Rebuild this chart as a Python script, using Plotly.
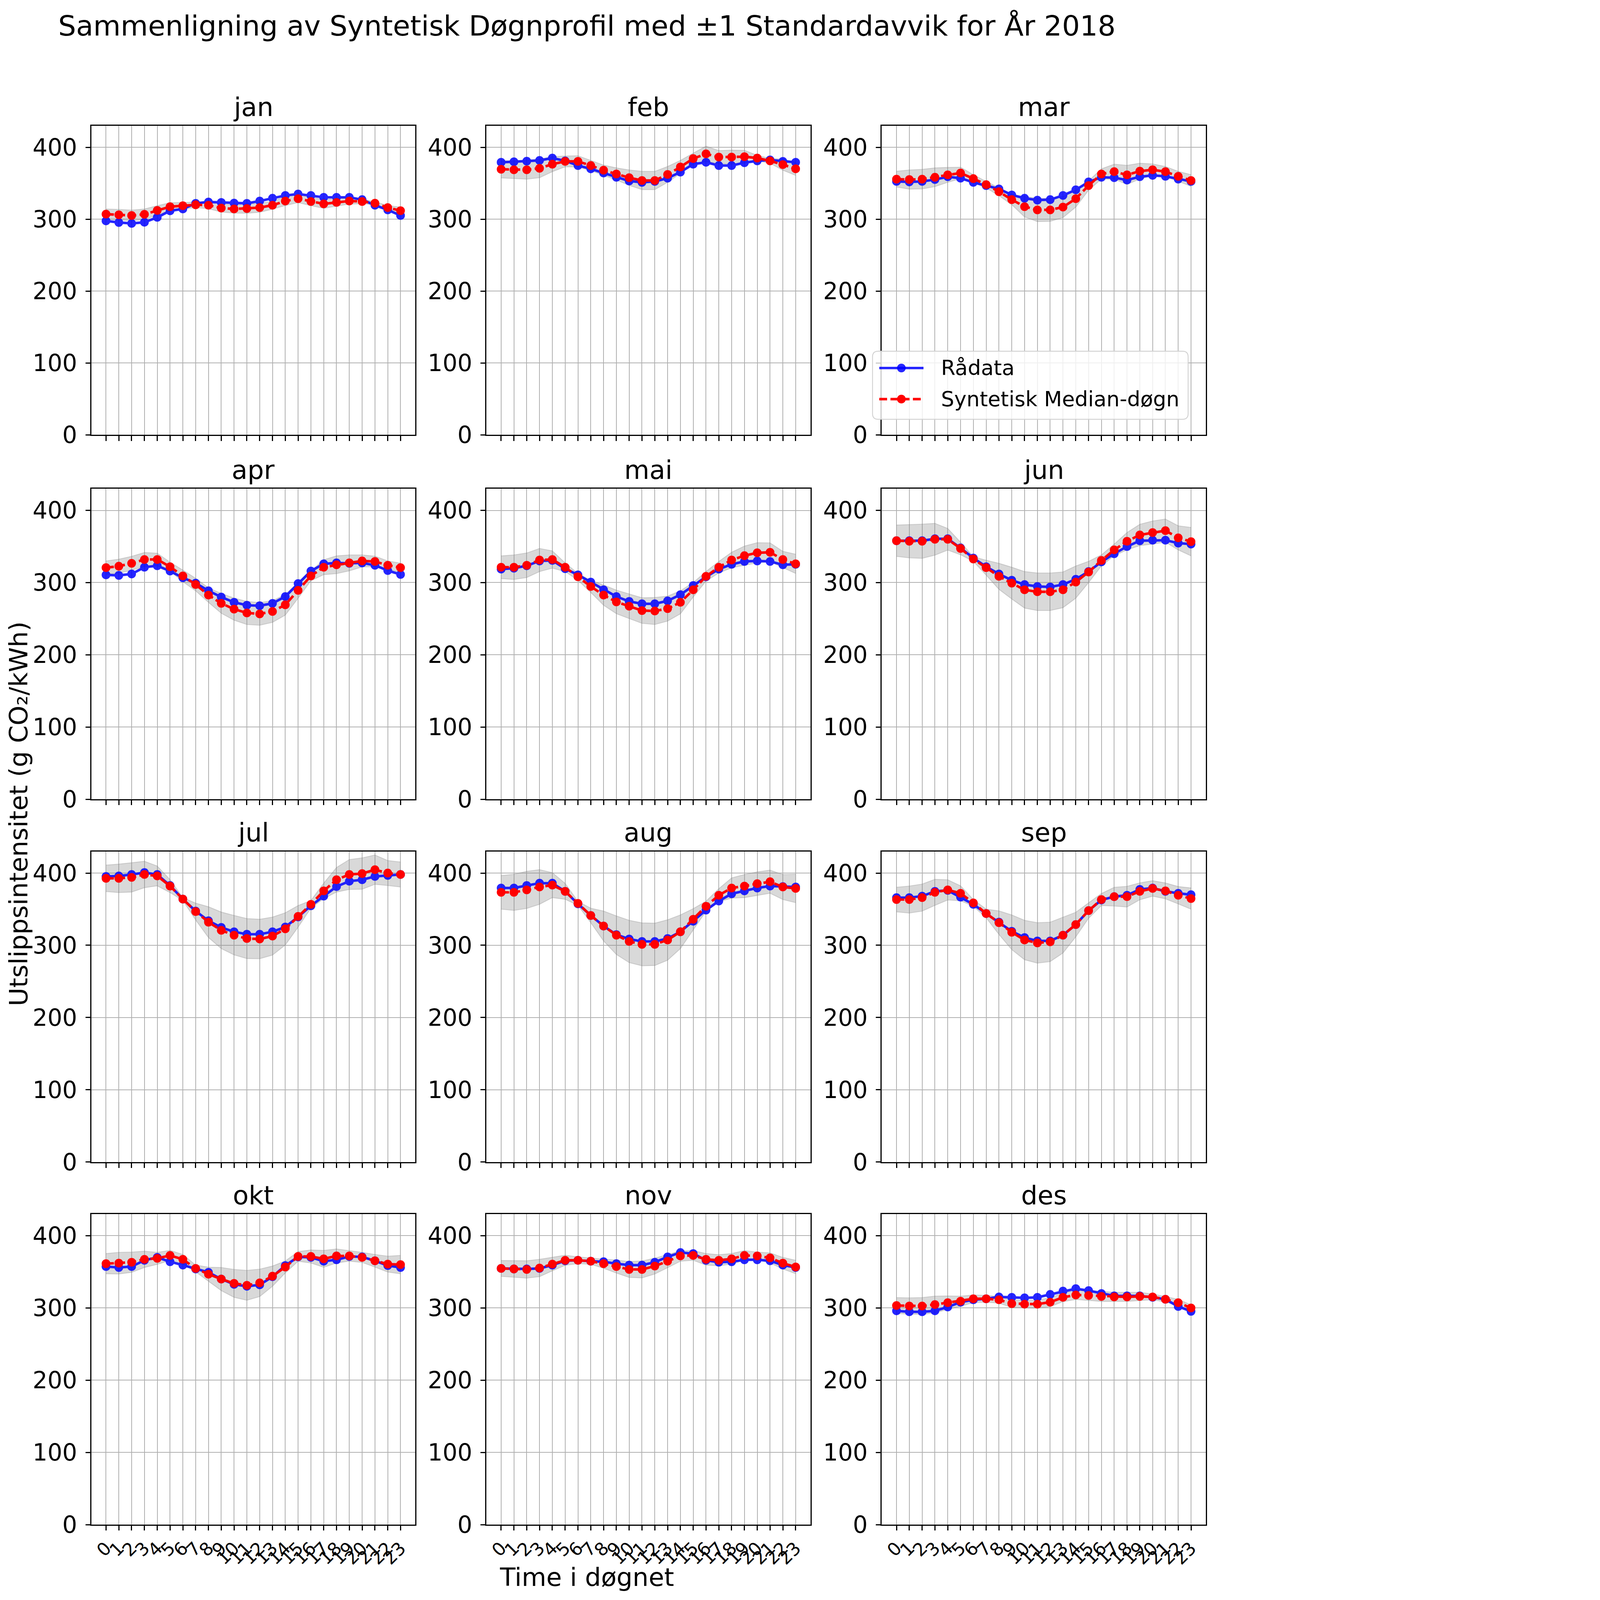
import plotly.graph_objects as go
from plotly.subplots import make_subplots

# Time i døgnet og måneder
timer = list(range(24))
maaneder = ["jan", "feb", "mar", "apr", "mai", "jun",
            "jul", "aug", "sep", "okt", "nov", "des"]

# Rådata (g CO2/kWh) per time, lest av figuren
raadata_jan = [297.7, 295.5, 294.2, 295.8, 302.6, 311.7, 314.3, 322.1, 324.0, 323.4, 322.5, 322.1,
               325.3, 329.2, 333.1, 335.1, 333.1, 330.5, 330.5, 330.5, 327.3, 319.5, 313.0, 305.2]
raadata_feb = [379.2, 379.9, 380.8, 381.8, 385.1, 381.2, 374.7, 370.1, 364.3, 358.4, 353.2, 351.3,
               352.6, 357.1, 365.6, 376.6, 379.2, 374.7, 374.7, 378.6, 381.2, 382.5, 380.5, 379.2]
raadata_mar = [352.6, 351.9, 352.6, 355.2, 359.1, 357.1, 351.3, 346.8, 342.2, 333.8, 329.2, 326.6,
               327.3, 333.1, 340.9, 351.9, 358.4, 357.8, 354.5, 359.1, 361.0, 359.7, 355.8, 352.6]
raadata_apr = [310.7, 310.0, 312.0, 321.3, 323.3, 316.0, 306.7, 299.3, 288.7, 280.0, 272.7, 268.7,
               268.0, 271.3, 280.7, 298.7, 316.0, 326.0, 327.3, 326.7, 327.3, 324.0, 316.7, 311.3]
raadata_mai = [318.7, 320.0, 323.3, 330.0, 330.7, 319.3, 310.7, 300.7, 290.0, 280.7, 274.0, 270.7,
               270.7, 274.7, 283.3, 296.0, 308.0, 318.7, 325.3, 329.3, 330.0, 329.3, 324.7, 325.3]
raadata_jun = [358.0, 358.0, 358.0, 360.7, 360.7, 348.0, 334.0, 322.0, 312.0, 303.3, 297.3, 294.7,
               294.0, 297.3, 304.7, 315.3, 328.7, 340.0, 350.0, 358.0, 358.7, 358.7, 354.7, 353.3]
raadata_jul = [395.3, 396.0, 398.0, 400.7, 398.0, 382.7, 364.0, 347.3, 334.0, 324.7, 318.7, 315.3,
               315.3, 318.7, 325.3, 339.3, 354.7, 368.0, 381.3, 388.7, 390.7, 395.3, 396.7, 398.0]
raadata_aug = [379.3, 379.3, 382.7, 386.0, 386.0, 374.7, 357.3, 341.3, 326.7, 314.7, 308.7, 305.3,
               305.3, 309.3, 318.7, 333.3, 348.7, 361.3, 371.3, 375.3, 379.3, 382.0, 381.3, 380.7]
raadata_sep = [366.0, 366.0, 368.0, 374.7, 376.0, 366.7, 356.7, 344.0, 332.0, 319.3, 310.7, 306.0,
               306.0, 314.0, 328.7, 348.0, 362.7, 367.3, 369.3, 377.3, 379.3, 374.7, 372.0, 370.0]
raadata_okt = [357.3, 356.0, 357.3, 366.0, 370.0, 364.0, 359.3, 354.0, 349.3, 340.0, 332.7, 330.0,
               332.0, 343.3, 358.7, 370.7, 370.0, 364.7, 366.7, 371.3, 370.7, 365.3, 358.7, 356.0]
raadata_nov = [354.7, 354.0, 354.0, 354.7, 359.3, 365.3, 366.0, 364.7, 364.0, 361.3, 359.3, 359.3,
               363.3, 370.7, 376.7, 375.3, 366.0, 363.3, 364.0, 366.7, 366.7, 365.3, 359.3, 356.0]
raadata_des = [296.0, 294.7, 294.7, 296.0, 301.3, 308.0, 311.3, 312.7, 315.3, 314.7, 314.0, 314.7,
               318.7, 323.3, 326.7, 324.0, 320.0, 316.7, 316.7, 316.7, 314.7, 312.0, 302.0, 295.3]

# Syntetisk median-døgn
syntetisk_jan = [307.1, 306.2, 305.2, 306.8, 312.3, 317.5, 318.8, 320.1, 319.5, 315.6, 314.3, 314.9,
                 316.2, 319.5, 325.3, 328.6, 324.7, 321.4, 323.4, 325.3, 324.7, 322.3, 316.2, 311.9]
syntetisk_feb = [369.5, 368.8, 368.8, 370.8, 376.6, 380.5, 380.5, 374.7, 368.2, 363.0, 357.8, 353.9,
                 353.9, 362.3, 372.7, 384.4, 390.9, 386.4, 386.4, 387.0, 385.1, 381.2, 376.0, 370.1]
syntetisk_mar = [355.8, 355.2, 355.8, 358.4, 361.7, 364.3, 356.5, 348.1, 338.3, 327.3, 317.5, 313.0,
                 313.0, 316.9, 328.6, 346.8, 363.0, 366.2, 361.7, 366.9, 368.8, 366.2, 359.7, 353.9]
syntetisk_apr = [320.7, 322.7, 326.7, 332.0, 332.0, 322.0, 309.3, 297.3, 282.7, 271.3, 263.3, 258.0,
                 256.7, 260.0, 269.3, 289.3, 309.3, 321.3, 324.7, 327.3, 330.0, 329.3, 324.0, 320.7]
syntetisk_mai = [321.3, 321.3, 324.0, 331.3, 332.0, 321.3, 308.0, 294.7, 282.7, 273.3, 267.3, 261.3,
                 260.7, 264.0, 272.7, 290.0, 308.7, 321.3, 331.3, 337.3, 341.3, 342.0, 332.0, 326.0]
syntetisk_jun = [358.0, 357.3, 357.3, 360.0, 360.0, 347.3, 332.7, 320.7, 308.7, 299.3, 290.0, 287.3,
                 287.3, 290.0, 300.7, 314.7, 330.7, 345.3, 357.3, 366.0, 369.3, 372.0, 362.0, 356.7]
syntetisk_jul = [392.7, 392.7, 394.0, 398.0, 396.0, 382.0, 364.0, 346.7, 332.0, 320.7, 314.0, 309.3,
                 308.7, 312.7, 322.7, 340.0, 356.7, 375.3, 390.7, 398.0, 399.3, 404.7, 400.0, 398.0]
syntetisk_aug = [373.3, 373.3, 376.7, 380.7, 383.3, 374.7, 358.0, 341.3, 326.7, 314.0, 305.3, 301.3,
                 301.3, 307.3, 318.7, 336.0, 354.0, 369.3, 379.3, 382.0, 385.3, 388.0, 380.7, 378.7]
syntetisk_sep = [363.3, 363.3, 366.0, 373.3, 376.7, 372.0, 358.7, 344.0, 331.3, 318.0, 307.3, 303.3,
                 304.7, 314.0, 328.7, 348.0, 363.3, 367.3, 367.3, 374.7, 378.7, 375.3, 369.3, 364.7]
syntetisk_okt = [361.3, 362.0, 363.3, 367.3, 368.7, 372.7, 367.3, 354.7, 346.7, 340.0, 334.0, 331.3,
                 334.7, 344.0, 356.7, 371.3, 371.3, 368.0, 372.0, 372.0, 370.0, 365.3, 360.7, 360.0]
syntetisk_nov = [354.7, 354.0, 353.3, 355.3, 360.7, 366.0, 366.0, 364.7, 361.3, 357.3, 353.3, 353.3,
                 358.0, 364.7, 372.0, 372.7, 367.3, 366.0, 368.0, 372.7, 372.0, 369.3, 362.0, 356.7]
syntetisk_des = [303.3, 302.7, 302.7, 304.7, 307.3, 309.3, 312.7, 312.7, 311.3, 306.0, 305.3, 305.3,
                 308.0, 314.7, 318.0, 317.3, 316.0, 315.3, 315.3, 316.0, 315.3, 312.0, 307.3, 300.0]

# Standardavvik for det syntetiske døgnet
std_jan = [7.1, 7.5, 7.5, 7.4, 6.5, 5.5, 4.5, 3.9, 4.9, 5.5, 5.8, 6.5,
           6.5, 5.5, 6.2, 5.5, 5.8, 6.2, 5.2, 4.2, 3.2, 2.0, 2.9, 4.9]
std_feb = [12.0, 12.3, 13.0, 13.0, 10.4, 7.5, 7.8, 7.1, 7.1, 8.4, 10.7, 12.7,
           12.7, 11.0, 9.1, 7.5, 10.7, 9.1, 9.7, 8.8, 3.9, 3.2, 7.8, 9.1]
std_mar = [11.0, 13.3, 13.6, 13.0, 10.4, 8.1, 5.5, 4.5, 5.5, 7.1, 14.3, 16.2,
           15.9, 14.6, 11.7, 6.5, 7.1, 10.4, 13.3, 11.0, 8.1, 7.1, 6.8, 8.1]
std_apr = [9.3, 9.7, 9.7, 9.7, 8.7, 6.3, 8.0, 8.7, 10.0, 13.7, 15.3, 16.0,
           15.7, 15.0, 14.3, 11.0, 6.7, 10.3, 12.3, 11.0, 8.3, 7.3, 6.0, 6.3]
std_mai = [15.7, 17.0, 17.0, 16.0, 12.0, 6.0, 4.7, 8.3, 14.0, 16.3, 17.0, 17.7,
           18.7, 17.3, 16.0, 10.0, 6.7, 8.0, 10.7, 13.3, 14.0, 13.0, 11.3, 13.3]
std_jun = [21.7, 23.0, 23.7, 22.0, 15.0, 8.7, 3.3, 10.3, 18.0, 22.0, 25.3, 26.0,
           26.0, 24.7, 22.3, 14.7, 7.7, 8.0, 12.0, 14.7, 16.0, 16.0, 16.7, 19.7]
std_jul = [18.3, 19.7, 20.3, 18.3, 13.7, 9.0, 2.0, 11.7, 21.3, 25.3, 27.3, 27.7,
           27.3, 26.3, 22.3, 15.0, 5.3, 10.7, 17.0, 20.7, 21.7, 20.3, 17.3, 17.3]
std_aug = [23.3, 25.0, 25.7, 24.0, 17.3, 11.0, 2.7, 10.0, 20.7, 26.7, 29.3, 29.7,
           29.3, 28.0, 23.3, 14.7, 7.0, 9.0, 14.0, 16.0, 16.3, 16.0, 17.3, 19.7]
std_sep = [17.0, 18.7, 18.7, 18.0, 14.0, 10.3, 4.7, 6.0, 16.3, 24.0, 27.3, 28.0,
           27.3, 24.7, 17.0, 10.7, 8.3, 13.0, 14.3, 11.7, 10.7, 11.0, 12.0, 14.7]
std_okt = [14.0, 15.0, 14.0, 11.3, 8.3, 7.0, 6.7, 4.7, 9.7, 16.0, 19.3, 20.7,
           19.0, 14.0, 8.3, 6.7, 9.0, 11.7, 9.7, 7.3, 7.0, 8.7, 11.0, 12.7]
std_nov = [11.0, 11.7, 12.0, 12.0, 9.3, 7.0, 4.7, 4.3, 6.3, 9.0, 11.0, 11.7,
           11.0, 9.0, 7.3, 6.7, 8.0, 7.7, 7.3, 6.7, 5.3, 7.0, 8.0, 9.3]
std_des = [11.0, 11.3, 11.7, 11.7, 9.3, 7.0, 5.3, 4.7, 4.7, 5.3, 5.3, 5.7,
           6.3, 6.0, 6.3, 7.0, 7.0, 6.3, 6.3, 5.7, 4.0, 3.7, 4.7, 4.3]

raadata = [raadata_jan, raadata_feb, raadata_mar, raadata_apr, raadata_mai, raadata_jun,
           raadata_jul, raadata_aug, raadata_sep, raadata_okt, raadata_nov, raadata_des]
syntetisk = [syntetisk_jan, syntetisk_feb, syntetisk_mar, syntetisk_apr, syntetisk_mai, syntetisk_jun,
             syntetisk_jul, syntetisk_aug, syntetisk_sep, syntetisk_okt, syntetisk_nov, syntetisk_des]
standardavvik = [std_jan, std_feb, std_mar, std_apr, std_mai, std_jun,
                 std_jul, std_aug, std_sep, std_okt, std_nov, std_des]

# Siden tegnes med ca. 1.39 skjermpiksler per CSS-piksel; body har 8 px marg
SX, SY, S = 1.395, 1.383, 1.39
KANT = 8
W = int(4334 / SX) - KANT - 1
H = int(5719 / SY) - KANT - 1


def px(v):
    """Skjermpiksler i referansen -> CSS-piksler."""
    return v / S


def fx(x):
    return (x / SX - KANT) / W


def fy(y):
    return 1 - (y / SY - KANT) / H


FONT = "DejaVu Sans"
BAND = "rgba(128,128,128,0.3)"
BLAA = "rgba(0,0,255,0.85)"
DASH = f"{px(28):.1f}px,{px(12):.1f}px"

# Aksenes plassering (skjermpiksler i referansen)
kolonner = [(fx(326), fx(1483)), (fx(1737), fx(2894)), (fx(3149), fx(4306))]
rader = [(fy(1553), fy(449)), (fy(2854), fy(1745)), (fy(4149), fy(3040)), (fy(5444), fy(4335))]

fig = make_subplots(rows=4, cols=3)

for i, navn in enumerate(maaneder):
    rad, kol = i // 3 + 1, i % 3 + 1
    median = syntetisk[i]
    std = standardavvik[i]
    ovre = [m + s for m, s in zip(median, std)]
    nedre = [m - s for m, s in zip(median, std)]

    # ±1 standardavvik
    fig.add_trace(go.Scatter(x=timer, y=ovre, mode="lines",
                             line=dict(color=BAND, width=px(3)),
                             showlegend=False, hoverinfo="skip"), row=rad, col=kol)
    fig.add_trace(go.Scatter(x=timer, y=nedre, mode="lines", fill="tonexty",
                             fillcolor=BAND, line=dict(color=BAND, width=px(3)),
                             showlegend=False, hoverinfo="skip"), row=rad, col=kol)

    # Rådata
    fig.add_trace(go.Scatter(x=timer, y=raadata[i], mode="lines+markers", name="Rådata",
                             line=dict(color="blue", width=px(9)),
                             marker=dict(color="blue", size=px(31)),
                             opacity=0.85, showlegend=False), row=rad, col=kol)

    # Syntetisk median-døgn
    fig.add_trace(go.Scatter(x=timer, y=median, mode="lines+markers", name="Syntetisk Median-døgn",
                             line=dict(color="red", width=px(9), dash=DASH),
                             marker=dict(color="red", size=px(31)),
                             showlegend=False), row=rad, col=kol)

    # Delplott-tittel
    fig.add_annotation(text=navn, xref="paper", yref="paper",
                       x=(kolonner[kol - 1][0] + kolonner[kol - 1][1]) / 2,
                       y=rader[rad - 1][1], xanchor="center", yanchor="bottom", yshift=px(10),
                       showarrow=False, font=dict(family=FONT, size=px(92), color="black"))

    xa = "xaxis" if i == 0 else f"xaxis{i + 1}"
    ya = "yaxis" if i == 0 else f"yaxis{i + 1}"
    fig.layout[xa].domain = kolonner[kol - 1]
    fig.layout[ya].domain = rader[rad - 1]
    fig.layout[xa].showticklabels = (rad == 4)

fig.update_xaxes(range=[-1.15, 24.15], tickmode="array", tickvals=timer,
                 ticktext=[str(t) for t in timer], tickangle=-45,
                 ticks="outside", ticklen=px(17), tickwidth=px(4), tickcolor="black",
                 showgrid=True, gridcolor="#b0b0b0", gridwidth=px(3),
                 showline=True, mirror=True, linecolor="black", linewidth=px(4),
                 zeroline=False, tickfont=dict(family=FONT, size=px(64), color="black"))
fig.update_yaxes(range=[0, 430], tickvals=[0, 100, 200, 300, 400],
                 ticks="outside", ticklen=px(17), tickwidth=px(4), tickcolor="black",
                 ticklabelstandoff=round(px(12)),
                 showgrid=True, gridcolor="#b0b0b0", gridwidth=px(3),
                 showline=True, mirror=True, linecolor="black", linewidth=px(4),
                 zeroline=False, tickfont=dict(family=FONT, size=px(83), color="black"))

fig.add_annotation(text="Time i døgnet", xref="paper", yref="paper",
                   x=fx(2096), y=fy(5632), xanchor="center", yanchor="middle", showarrow=False,
                   font=dict(family=FONT, size=px(90), color="black"))
fig.add_annotation(text="Utslippsintensitet (g CO₂/kWh)", xref="paper", yref="paper",
                   x=fx(66), y=fy(2906), xanchor="center", yanchor="middle",
                   textangle=-90, showarrow=False,
                   font=dict(family=FONT, size=px(90), color="black"))

# Forklaring (tegnet som i matplotlib: avrundet boks, linjeprøve med markør)
bx0, bx1, by0, by1 = fx(3116), fx(4243), fy(1497), fy(1254)
rx = 20 / SX / W
ry = 20 / SY / H
boks = (f"M{bx0 + rx},{by0} L{bx1 - rx},{by0} Q{bx1},{by0} {bx1},{by0 + ry} "
        f"L{bx1},{by1 - ry} Q{bx1},{by1} {bx1 - rx},{by1} "
        f"L{bx0 + rx},{by1} Q{bx0},{by1} {bx0},{by1 - ry} "
        f"L{bx0},{by0 + ry} Q{bx0},{by0} {bx0 + rx},{by0} Z")
fig.add_shape(type="path", path=boks, xref="paper", yref="paper", layer="above",
              fillcolor="rgba(255,255,255,0.8)", line=dict(color="#d0d0d0", width=px(3)))

forklaring = [("Rådata", 1314, "blue", 0.85, "solid"),
              ("Syntetisk Median-døgn", 1425, "red", 1.0, DASH)]
for tekst, ly, farge, alfa, strek in forklaring:
    fig.add_shape(type="line", xref="paper", yref="paper", layer="above",
                  x0=fx(3140), x1=fx(3298), y0=fy(ly), y1=fy(ly), opacity=alfa,
                  line=dict(color=farge, width=px(9), dash=strek))
    r = px(15.5)
    fig.add_shape(type="circle", xref="paper", yref="paper", layer="above",
                  xsizemode="pixel", ysizemode="pixel",
                  xanchor=fx(3219), yanchor=fy(ly), x0=-r, x1=r, y0=-r, y1=r,
                  fillcolor=farge, opacity=alfa, line=dict(width=0))
    fig.add_annotation(text=tekst, xref="paper", yref="paper",
                       x=fx(3358), y=fy(ly), xanchor="left", yanchor="middle",
                       showarrow=False, font=dict(family=FONT, size=px(74), color="black"))

fig.update_layout(
    width=W, height=H,
    margin=dict(l=0, r=0, t=0, b=0),
    paper_bgcolor="white", plot_bgcolor="white",
    font=dict(family=FONT, color="black"),
    showlegend=False,
    title=dict(text="Sammenligning av Syntetisk Døgnprofil med ±1 Standardavvik for År 2018",
               x=fx(2096), xanchor="center", y=fy(91), yanchor="middle",
               font=dict(family=FONT, size=px(100), color="black")),
)

fig.write_html("out.html")
